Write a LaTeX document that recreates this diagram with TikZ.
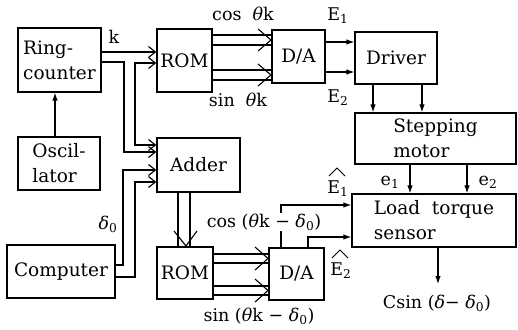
\documentclass[tikz,border=0pt]{standalone}
\usepackage{fontspec}
\setmainfont{DejaVu Serif}
\usetikzlibrary{arrows.meta}
\tikzset{
  blk/.style={draw, line width=1.3pt, inner sep=0pt, font=\fontsize{18.5}{25}\selectfont},
  lbl/.style={inner sep=1pt, font=\fontsize{17.5}{20}\selectfont},
  conn/.style={line width=1.1pt},
  farr/.style={conn, -{Latex[length=8pt,width=5.5pt]}},
  oarr/.style={conn, -{Straight Barb[length=7pt,width=11pt]}},
  oarrb/.style={conn, {Straight Barb[length=7pt,width=11pt]}-{Straight Barb[length=7pt,width=11pt]}},
  hat/.style={line width=0.8pt}
}
\begin{document}
\begin{tikzpicture}[x=1pt,y=-1pt]
\useasboundingbox (0,0) rectangle (518,329);
% blocks
\node[blk, align=left, minimum width=83pt, minimum height=64pt] (ring) at (59.5,60) {Ring-\\counter};
\node[blk, align=left, minimum width=82pt, minimum height=53pt] (osc) at (59,163.5) {Oscil-\\lator};
\node[blk, minimum width=55pt, minimum height=63pt] (rom1) at (184.5,60.5) {ROM};
\node[blk, minimum width=53pt, minimum height=53pt] (da1) at (298.5,56.5) {D/A};
\node[blk, minimum width=82pt, minimum height=52pt] (drv) at (396,58) {Driver};
\node[blk, align=left, minimum width=161pt, minimum height=51pt] (step) at (435.5,138.5) {Stepping\\motor};
\node[blk, minimum width=83pt, minimum height=54pt] (adder) at (198.5,165) {Adder};
\node[blk, minimum width=108pt, minimum height=53pt] (comp) at (61,271.5) {Computer};
\node[blk, minimum width=56pt, minimum height=52pt] (rom2) at (185,273) {ROM};
\node[blk, minimum width=55pt, minimum height=52pt] (da2) at (296.5,274) {D/A};
\node[blk, align=left, minimum width=164pt, minimum height=53pt] (load) at (434,220.5) {Load\ \ torque\\sensor};
% oscillator -> ring counter
\draw[farr] (osc.north -| 55,0) -- (ring.south -| 55,0);
% ring counter -> ROM, adder
\draw[oarr] (ring.east |- 0,52) -- (rom1.west |- 0,52);
\node[lbl] (k) at (114,37) {k};
\draw[oarr] (ring.east |- 0,62) -| (124,152) -- (adder.west |- 0,152);
\draw[oarrb] (rom1.west |- 0,63) -| (135,145) -- (adder.west |- 0,145);
% computer -> adder
\draw[oarr] (comp.east |- 0,265) -| (123,170) -- (adder.west |- 0,170);
\draw[oarr] (comp.east |- 0,277) -| (135,182) -- (adder.west |- 0,182);
\node[lbl] (d0) at (108,224) {\textit{δ}\textsubscript{0}};
% adder -> ROM2 (bus)
\draw[conn] (adder.south -| 178,0) -- (rom2.north -| 178,0);
\draw[conn] (adder.south -| 190,0) -- (rom2.north -| 190,0);
\draw[conn] (174,231) -- (186,246) -- (197,231);
% ROM1 -> D/A1 (buses)
\draw[conn] (rom1.east |- 0,35) -- (da1.west |- 0,35);
\draw[conn] (rom1.east |- 0,45) -- (da1.west |- 0,45);
\draw[conn] (258,29) -- (271,40) -- (258,51);
\draw[conn] (rom1.east |- 0,70) -- (da1.west |- 0,70);
\draw[conn] (rom1.east |- 0,80) -- (da1.west |- 0,80);
\draw[conn] (258,64) -- (271,75) -- (258,86);
\node[lbl] (c1) at (243,14) {cos\ \ \textit{θ}k};
\node[lbl] (s1) at (238,100) {sin\ \ \textit{θ}k};
% ROM2 -> D/A2 (buses)
\draw[conn] (rom2.east |- 0,254) -- (da2.west |- 0,254);
\draw[conn] (rom2.east |- 0,263) -- (da2.west |- 0,263);
\draw[conn] (255,247) -- (268,258.5) -- (255,270);
\draw[conn] (rom2.east |- 0,286) -- (da2.west |- 0,286);
\draw[conn] (rom2.east |- 0,295) -- (da2.west |- 0,295);
\draw[conn] (255,279) -- (268,290.5) -- (255,302);
\node[lbl] (s2) at (259,316) {sin\ (\textit{θ}k − \textit{δ}\textsubscript{0})};
% D/A1 -> driver
\draw[farr] (da1.east |- 0,42) -- (drv.west |- 0,42);
\draw[farr] (da1.east |- 0,72) -- (drv.west |- 0,72);
\node[lbl] (E1) at (338,16) {E\textsubscript{1}};
\node[lbl] (E2) at (338,98) {E\textsubscript{2}};
% driver -> stepping motor
\draw[farr] (drv.south -| 373,0) -- (step.north -| 373,0);
\draw[farr] (drv.south -| 422,0) -- (step.north -| 422,0);
% stepping motor -> load torque sensor
\draw[farr] (step.south -| 410,0) -- (load.north -| 410,0);
\draw[farr] (step.south -| 467,0) -- (load.north -| 467,0);
\node[lbl] (e1) at (390,182) {e\textsubscript{1}};
\node[lbl] (e2) at (488,182) {e\textsubscript{2}};
% D/A2 -> load torque sensor
\draw[farr] (da2.north -| 281,0) -- (281,205) -- (load.west |- 0,205);
\draw[farr] (da2.north -| 308,0) -- (308,237) -- (load.west |- 0,237);
\node[lbl, fill=white, inner sep=0.5pt] (c2) at (264,222) {cos\ (\textit{θ}k − \textit{δ}\textsubscript{0})};
\node[lbl] (Eh1) at (338,189) {E\textsubscript{1}};
\draw[hat] (329,176) -- (337,168) -- (345,176);
\node[lbl] (Eh2) at (341,271) {E\textsubscript{2}};
\draw[hat] (332,258) -- (340,250) -- (348,258);
% output
\coordinate (out) at (438,284);
\draw[farr] (load.south -| out) -- (out);
\node[lbl] (cs) at (437,303) {Csin\ (\textit{δ}− \textit{δ}\textsubscript{0})};
\end{tikzpicture}
\end{document}
